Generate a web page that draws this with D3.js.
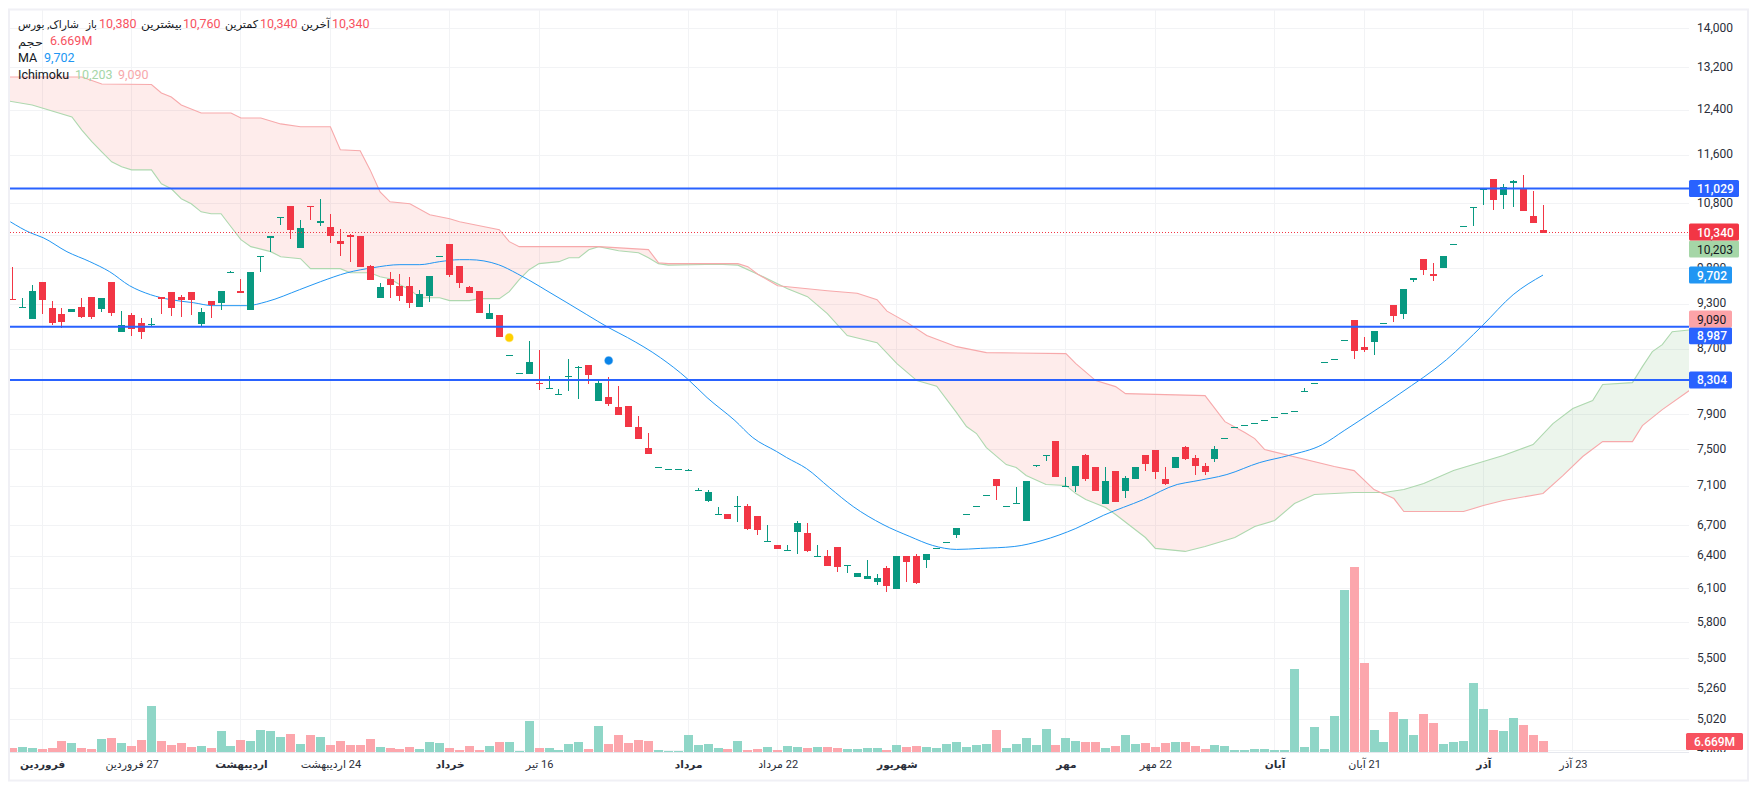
<!DOCTYPE html>
<html lang="fa">
<head>
<meta charset="utf-8">
<script src="https://cdn.jsdelivr.net/npm/d3@7/dist/d3.min.js"></script>
<style>
html,body{margin:0;padding:0;background:#fff;}
svg{display:block;font-family:Roboto,"Noto Sans",sans-serif;}
</style>
</head>
<body>
<svg id="c" width="1757" height="790"></svg>
<script>
// ---------- data ----------
const opens=[9369,9258,9095,9607,9245,9162,9190,9258,9396,9231,
9607,8921,9149,9041,9028,9396,9466,9396,9466,9028,
9341,9313,9750,9480,9217,9975,10255,10570,10752,10104,
10752,10490,10423,10210,10300,10285,9838,9382,9650,9551,
9551,9258,9410,9985,10164,9838,9537,9480,9095,9149,
8622,8391,8383,8272,8212,8134,8354,8470,8496,8054,
8102,7983,7995,7750,7512,7304,7277,7280,7268,7056,
6934,6810,6812,6890,6893,6792,6543,6497,6456,6633,
6623,6398,6401,6478,6307,6197,6178,6150,6279,6087,
6401,6401,6354,6475,6532,6594,6810,6890,7007,7165,
6893,6924,6742,7325,7435,7590,7098,7102,7435,7304,
6914,7260,7049,7175,7435,7490,7165,7293,7523,7402,
7315,7391,7622,7746,7769,7793,7830,7865,7906,7936,
8175,8272,8534,8568,8812,9081,8726,8790,9037,9285,
9162,9636,9941,9722,9809,10160,10435,10731,11030,11190,
10928,11125,11043,10593,10380];
const highs=[9824,9382,9565,9607,9341,9245,9231,9382,9396,9382,
9607,9203,9176,9108,9108,9396,9466,9424,9466,9245,
9341,9480,9755,9650,9750,9975,10285,10570,10752,10531,
10752,10864,10625,10392,10315,10285,9853,9593,9750,9722,
9679,9494,9693,9985,10164,9838,9551,9480,9299,9149,
8622,8391,8803,8687,8358,8199,8571,8475,8496,8297,
8346,8235,7995,7877,7681,7304,7277,7280,7280,7070,
7049,6883,6812,6996,6914,6792,6702,6497,6497,6742,
6722,6497,6449,6478,6315,6233,6363,6224,6300,6392,
6401,6420,6411,6475,6532,6663,6810,6890,7007,7165,
6893,7081,7154,7325,7435,7590,7196,7315,7446,7304,
7304,7260,7207,7304,7435,7490,7304,7413,7534,7435,
7347,7534,7622,7746,7769,7793,7830,7865,7906,7936,
8211,8272,8534,8568,8812,9081,8856,8934,9037,9285,
9508,9665,9941,9882,9985,10160,10435,10731,11030,11190,
11108,11175,11256,10993,10760];
const lows=[9355,9250,9095,9162,9015,8975,9190,9110,9095,9190,
9135,8921,8869,8829,9001,9162,9135,9122,9149,8988,
9108,9217,9745,9452,9217,9750,10044,10454,10240,10104,
10531,10428,10179,9985,9897,9824,9636,9382,9382,9341,
9245,9258,9327,9985,9679,9522,9452,9176,9095,8855,
8622,8391,8383,8187,8205,8134,8175,8078,8260,8054,
7995,7889,7750,7613,7446,7304,7277,7280,7268,7056,
6934,6810,6762,6725,6643,6594,6535,6459,6456,6420,
6430,6398,6307,6242,6233,6197,6178,6123,6060,6087,
6150,6132,6288,6475,6532,6565,6810,6890,7007,6955,
6893,6924,6742,7304,7369,7196,7098,7038,7154,7049,
6914,6934,6976,7175,7260,7165,7102,7293,7380,7217,
7217,7358,7622,7746,7769,7793,7830,7865,7906,7936,
8175,8272,8534,8568,8812,8571,8661,8622,9037,9055,
9095,9607,9708,9621,9809,10160,10435,10438,10768,10689,
10705,10736,10672,10485,10340];
const closes=[9355,9258,9480,9355,9041,9055,9231,9122,9122,9382,
9176,9015,8961,8921,9028,9369,9245,9355,9355,9190,
9285,9480,9750,9452,9750,9975,10285,10570,10377,10408,
10736,10515,10285,10164,10270,9824,9636,9537,9565,9410,
9313,9438,9693,9985,9708,9593,9452,9176,9176,8855,
8622,8391,8534,8262,8212,8134,8354,8470,8370,8272,
8018,7889,7750,7613,7446,7304,7277,7280,7268,7056,
7028,6810,6762,6890,6663,6653,6543,6459,6456,6722,
6449,6398,6307,6288,6307,6233,6205,6187,6114,6392,
6344,6150,6411,6475,6532,6663,6810,6890,7007,7091,
6893,6924,7154,7325,7435,7196,7098,7315,7175,7049,
7154,6934,7186,7304,7336,7250,7112,7413,7391,7315,
7250,7501,7622,7746,7769,7793,7830,7865,7906,7936,
8175,8272,8534,8568,8812,8674,8687,8934,9037,9135,
9508,9665,9780,9693,9985,10160,10435,10731,11030,10848,
11060,11158,10672,10485,10340];
const volumes=[2.3,2.9,2.3,1.7,2.3,6.7,5.4,2.3,1.7,7.9,
8.5,5.4,3.6,7.3,28.5,6.7,4.2,5.4,2.9,3.6,
2.3,12.9,3.6,7.3,6.7,13.5,12.9,9.2,11,4.8,
10.4,9.2,4.2,6.7,4.2,4.2,7.9,2.9,2.3,1.7,
2.9,1.7,6,5.4,2.3,1.1,3.6,1.1,3.6,6,
6,0.4,19.1,2.3,2.3,1.1,4.8,6,1.7,16,
4.8,10.4,5.4,7.3,6.7,1.1,0.4,0.4,10.4,4.2,
4.8,2.3,1.7,6.7,1.1,1.7,2.9,1.1,3.6,2.9,
2.3,2.9,2.9,2.3,1.7,1.7,2.3,2.3,1.1,4.2,
2.9,3.6,2.9,2.3,4.8,6,2.9,4.2,4.8,13.5,
2.3,4.8,8.5,4.2,14.1,4.2,8.5,6.7,6,6,
2.3,3.6,10.4,4.8,5.4,2.9,5.4,6,6,3.6,
1.7,4.2,3.6,1.1,1.1,1.7,1.7,1.1,1.1,51.5,
2.9,15.4,1.7,22.2,100.7,115,55.3,13.5,6,24.7,
20.4,10.4,23.5,17.9,4.8,6,6.7,42.8,26.6,13.5,
12.9,21,16.6,10.4,6.669];

const maBars=[-0.2,1.8,3.1,5.5,7.8,9.8,11.8,13.9,15.9,18.2,20.2,23.6,25.6,28.9,31,33.7,36.3,39,41,43,45,46,48.9,50.8,53.1,53.6,55.8,57.8,60,61.9,65.2,67.9,69.9,72.7,74.5,76.9,77.9,79.9,82.2,84.6,87.6,90.3,92.6,95,97.4,100.8,103.6,107,109.8,113.8,117.2,118.8,122.2,125.5,128.4,131.8,134,139.6,144.3,147.9,151,154];
const maValues=[10500,10331,10255,10044,9897,9750,9550,9424,9355,9313,9272,9272,9327,9494,9607,9736,9809,9853,9853,9897,9926,9926,9853,9722,9537,9494,9313,9149,8974,8843,8584,8321,8090,7819,7624,7468,7402,7282,7080,6883,6702,6584,6497,6459,6469,6487,6545,6663,6795,6955,7112,7144,7218,7347,7424,7545,7704,8138,8559,9001,9424,9702];

const spanABars=[-1,2,6,7,8,9,10,11,12,14,15,16,17,18,19,20,21,22,23,24,26,27,29,30,33,34,36,37,38,39,40,41,43,44,46,47,49,50,51,52,53,55,56,57,58,59,61,63,64,65,66,71,73,75,78,80,82,84,87,89,91,93,95,96,97,98,100,101,102,104,106,107,108,110,111,114,115,118,120,123,125,127,129,131,135,138,140,142,145,150,153,155,157,159,160,163,164,165,166,167,169];
const spanAValues=[12580,12486,12266,12030,11825,11647,11476,11391,11340,11340,11108,11027,10865,10784,10656,10625,10625,10423,10225,10120,10045,9970,9941,9795,9795,9736,9736,9679,9650,9565,9494,9382,9382,9341,9341,9369,9369,9466,9636,9780,9868,9897,9955,9955,10074,10120,10059,10029,9955,9868,9846,9860,9846,9715,9508,9396,9162,8870,8777,8508,8297,8228,7912,7750,7670,7512,7325,7293,7207,7112,7102,7017,6955,6873,6802,6574,6469,6440,6487,6574,6682,6742,6914,7007,7028,7028,7059,7122,7260,7425,7546,7784,7960,8054,8248,8272,8470,8661,8751,8921,8948];
const spanBBars=[-1,7,9,14,15,16,17,19,22,23,25,27,29,32,33,35,36,37,38,40,42,44,45,46,47,49,50,51,59,64,65,66,73,74,75,77,79,82,85,87,88,90,92,95,98,106,107,109,111,112,120,122,124,125,126,133,135,137,139,140,146,148,150,154,156,158,160,163,164,166,169];
const spanBValues=[13014,13014,12880,12870,12710,12635,12486,12339,12339,12248,12248,12140,12088,12088,11682,11665,11340,10976,10816,10784,10610,10548,10500,10470,10438,10378,10195,10120,10120,10075,9882,9868,9868,9824,9715,9550,9522,9480,9445,9355,9197,9045,8870,8725,8648,8635,8508,8297,8223,8138,8114,7807,7681,7613,7490,7304,7260,7059,6965,6832,6832,6893,6945,7018,7207,7413,7579,7579,7761,7947,8199];
const crossBar=137.6, crossPrice=7030;

const priceTicks=[14000,13200,12400,11600,10800,10300,9800,9300,8700,8300,7900,7500,7100,6700,6400,6100,5800,5500,5260,5020,4800];
const timeBars=[3,12,23,32,44,53,68,77,89,106,115,127,136,148,157];
const timeLabels=["فروردین","27 فروردین","اردیبهشت","24 اردیبهشت","خرداد","16 تیر","مرداد","22 مرداد","شهریور","مهر","22 مهر","آبان","21 آبان","آذر","23 آذر"];
const timeBold=[1,0,1,0,1,0,1,0,1,1,0,1,0,1,0];
const levelValues=[11029,8987,8304];
const lastClose=10340;
const markerBars=[50,60], markerPrices=[8842,8546], markerColors=["#ffd000","#0a84e8"];
const labelValues=[8304,8987,9090,9702,10203,10340,11029];
const labelTexts=["8,304","8,987","9,090","9,702","10,203","10,340","11,029"];
const labelFills=["#2962ff","#2962ff","#fca3a8","#2196f3","#a5d6a7","#f23645","#2962ff"];
const labelInk=["#fff","#fff","#131722","#fff","#131722","#fff","#fff"];
const labelShift=[0,9,0,0,8,0,0];

// ---------- layout ----------
const L=10,R=1689,T=10,B=752,W=1757,H=790;
const GREEN="#089981",RED="#f23645";
const svg=d3.select("#c");
const x=d3.scaleLinear().domain([0,154]).range([12.3,1543]);
const y=d3.scaleLog().domain([14374,4783]).range([T,B]);
const v=d3.scaleLinear().domain([0,120]).range([B,B-193]);
const defs=svg.append("defs");
defs.append("clipPath").attr("id","plot").append("rect").attr("x",L).attr("y",T).attr("width",R-L).attr("height",B-T);
defs.append("clipPath").attr("id","axisclip").append("rect").attr("x",R).attr("y",T).attr("width",70).attr("height",B-T);

// frame
svg.append("rect").attr("x",9).attr("y",9.5).attr("width",1739).attr("height",771).attr("fill","#fff").attr("stroke","#f0f0f5").attr("stroke-width",2);

// grid
const grid=svg.append("g").attr("shape-rendering","crispEdges").attr("stroke","#f2f3f5");
grid.selectAll("line.h").data(priceTicks).join("line").attr("class","h").attr("x1",L).attr("x2",R).attr("y1",d=>Math.round(y(d))).attr("y2",d=>Math.round(y(d)));
grid.selectAll("line.v").data(timeBars).join("line").attr("class","v").attr("y1",T).attr("y2",B).attr("x1",d=>Math.floor(x(d))+.5).attr("x2",d=>Math.floor(x(d))+.5);

const plot=svg.append("g").attr("clip-path","url(#plot)");

// ichimoku cloud
const toPts=(b,p)=>b.map((d,i)=>[d,p[i]]);
const A=toPts(spanABars,spanAValues),Bb=toPts(spanBBars,spanBValues);
const ln=d3.line().x(d=>x(d[0])).y(d=>y(d[1]));
const cross=[crossBar,crossPrice];
const poly1=[...A.filter(d=>d[0]<crossBar),cross,...Bb.filter(d=>d[0]<crossBar).reverse()];
const poly2=[cross,...A.filter(d=>d[0]>crossBar),...Bb.filter(d=>d[0]>crossBar).reverse()];
plot.append("path").attr("d",ln(poly1)+"Z").attr("fill","rgba(244,67,54,0.1)");
plot.append("path").attr("d",ln(poly2)+"Z").attr("fill","rgba(67,160,71,0.1)");
plot.append("path").attr("d",ln(A)).attr("fill","none").attr("stroke","#aed8af").attr("stroke-width",1.1);
plot.append("path").attr("d",ln(Bb)).attr("fill","none").attr("stroke","#f7a9ab").attr("stroke-width",1.1);

// volume
plot.append("g").attr("shape-rendering","crispEdges").selectAll("rect").data(volumes).join("rect")
 .attr("x",(d,i)=>Math.round(x(i)-4.5)).attr("width",9)
 .attr("y",d=>v(d)).attr("height",d=>B-v(d))
 .attr("fill",(d,i)=>closes[i]>=opens[i]?"#8fd6c7":"#fca6ac");

// MA
plot.append("path").attr("d",ln.curve(d3.curveMonotoneX)(toPts(maBars,maValues))).attr("fill","none").attr("stroke","#2196f3").attr("stroke-width",1);
ln.curve(d3.curveLinear);

// candles
const candle=plot.append("g").attr("shape-rendering","crispEdges");
const color=i=>closes[i]>=opens[i]?GREEN:RED;
candle.selectAll("rect.w").data(opens).join("rect").attr("class","w")
 .attr("x",(d,i)=>Math.floor(x(i))).attr("width",1)
 .attr("y",(d,i)=>y(highs[i])).attr("height",(d,i)=>Math.max(0,y(lows[i])-y(highs[i])))
 .attr("fill",(d,i)=>color(i));
candle.selectAll("rect.b").data(opens).join("rect").attr("class","b")
 .attr("x",(d,i)=>Math.floor(x(i))-3).attr("width",7)
 .attr("y",(d,i)=>Math.round(y(Math.max(d,closes[i]))))
 .attr("height",(d,i)=>Math.max(1,Math.round(Math.abs(y(d)-y(closes[i])))))
 .attr("fill",(d,i)=>color(i));

// last price dotted
plot.append("line").attr("x1",L).attr("x2",R).attr("y1",Math.floor(y(lastClose))+.5).attr("y2",Math.floor(y(lastClose))+.5)
 .attr("stroke",RED).attr("stroke-width",1).attr("stroke-dasharray","1 2").attr("shape-rendering","crispEdges");

// levels
plot.selectAll("line.lv").data(levelValues).join("line").attr("class","lv")
 .attr("x1",L).attr("x2",R).attr("y1",d=>y(d)).attr("y2",d=>y(d))
 .attr("stroke","#2962ff").attr("stroke-width",2);

// markers
plot.selectAll("circle").data(markerBars).join("circle")
 .attr("cx",d=>x(d)).attr("cy",(d,i)=>y(markerPrices[i])).attr("r",3.8)
 .attr("fill",(d,i)=>markerColors[i]).attr("stroke",(d,i)=>d3.color(markerColors[i]).copy({opacity:.45})).attr("stroke-width",1.5);

// right axis
const axR=svg.append("g").attr("clip-path","url(#axisclip)").append("g").attr("transform",`translate(${R},0)`)
 .call(d3.axisRight(y).tickValues(priceTicks).tickFormat(d3.format(",")).tickSize(0).tickPadding(8));
axR.select(".domain").remove();
axR.selectAll("text").attr("font-family","Roboto").attr("font-size",12).attr("fill","#2a2e39").attr("dy",".28em");

// time axis
svg.append("line").attr("x1",L).attr("x2",R).attr("y1",B+.5).attr("y2",B+.5).attr("stroke","#e6e8ee");
const axB=svg.append("g").attr("transform",`translate(0,${B})`)
 .call(d3.axisBottom(x).tickValues(timeBars).tickFormat((d,i)=>timeLabels[i]).tickSize(0).tickPadding(8));
axB.select(".domain").remove();
axB.selectAll("text").attr("font-family","Roboto,'DejaVu Sans'").attr("font-size",(d,i)=>timeBold[i]?10.6:11).attr("fill","#2a2e39")
 .style("direction","rtl").attr("font-weight",(d,i)=>timeBold[i]?"700":"400").attr("text-anchor","middle");

// price labels
const lbl=svg.append("g");
labelValues.forEach((val,i)=>{
  const cy=y(val)+labelShift[i], w=labelTexts[i].length>5?50:43;
  lbl.append("rect").attr("x",R).attr("y",cy-8.5).attr("width",w).attr("height",17).attr("rx",1.5).attr("fill",labelFills[i]);
  lbl.append("text").attr("x",R+8).attr("y",cy+4.5).attr("font-size",12).attr("font-weight",labelInk[i]==="#fff"?500:400).attr("fill",labelInk[i]).text(labelTexts[i]);
});
// last volume label
lbl.append("rect").attr("x",R-3).attr("y",733).attr("width",57).attr("height",17).attr("rx",1.5).attr("fill","#f7525f");
lbl.append("text").attr("x",R+5).attr("y",746).attr("font-size",12).attr("font-weight",500).attr("fill","#fff").text("6.669M");

// legend
const ink="#131722";
const legend=[
 ["شاراک, بورس",18,28,ink,11,61],["باز",86,28,ink,11,11],["10,380",99,28,"#f7525f",12.5,0],
 ["بیشترین",141,28,ink,11,41],["10,760",183,28,"#f7525f",12.5,0],
 ["کمترین",225,28,ink,11,33],["10,340",260,28,"#f7525f",12.5,0],
 ["آخرین",301,28,ink,11,29],["10,340",332,28,"#f7525f",12.5,0],
 ["حجم",18,46,ink,11,25],["6.669M",50,45,"#f7525f",12.5,0],
 ["MA",18,62,ink,12.5,0],["9,702",44,62,"#2196f3",12.5,0],
 ["Ichimoku",18,79,ink,12.5,0],["10,203",75,79,"#a5d6a7",12.5,0],["9,090",118,79,"#f7a8ab",12.5,0]
];
svg.append("g").selectAll("text").data(legend).join("text")
 .attr("x",d=>d[1]).attr("y",d=>d[2]).attr("fill",d=>d[3]).attr("font-size",d=>d[4]).attr("font-family","Roboto,'DejaVu Sans'")
 .each(function(d){ if(d[5]) d3.select(this).attr("textLength",d[5]).attr("lengthAdjust","spacingAndGlyphs"); })
 .text(d=>d[0]);
</script>
</body>
</html>
